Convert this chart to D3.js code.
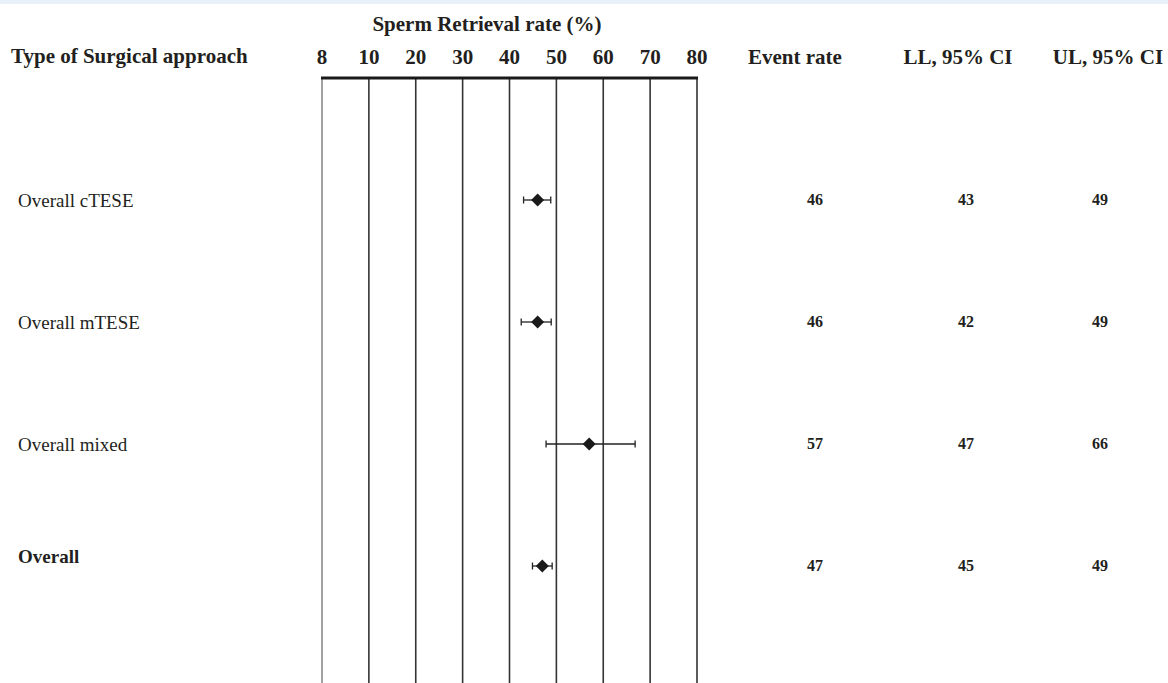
<!DOCTYPE html>
<html>
<head>
<meta charset="utf-8">
<script src="https://cdn.jsdelivr.net/npm/d3@7"></script>
<style>
  body { margin: 0; background: #fff; }
  svg { display: block; font-family: "Liberation Serif", "Times New Roman", serif; }
</style>
</head>
<body>
<div id="chart"></div>
<script>
// data
var groups   = ["Overall cTESE", "Overall mTESE", "Overall mixed", "Overall"];
var rates    = [46, 46, 57, 47];   // point estimate (plotted)
var lowerCI  = [43, 42.5, 47.8, 44.9];
var upperCI  = [48.8, 48.9, 66.8, 49.1];
var rateText = ["46", "46", "57", "47"];
var llText   = ["43", "42", "47", "45"];
var ulText   = ["49", "49", "66", "49"];
var ticks    = [8, 10, 20, 30, 40, 50, 60, 70, 80];
var colHeads = ["Event rate", "LL, 95% CI", "UL, 95% CI"];

var W = 1168, H = 683;
var app = {};
app.x0 = 322; app.x1 = 697; // axis ends
app.axisY = 78;
app.headSize = 21;

var svg = d3.select('#chart').append('svg')
  .attr('width', W).attr('height', H);

// light band along the top
svg.append('rect').attr('x', 0).attr('y', 0).attr('width', W).attr('height', 4)
  .attr('fill', '#e8f0fa');

// polylinear scale: ticks evenly spaced
var step = (app.x1 - app.x0) / (ticks.length - 1);
var x = d3.scaleLinear()
  .domain(ticks)
  .range(ticks.map(function(d, i){ return app.x0 + i * step; }));

var y = d3.scalePoint().domain(groups).range([200, 566]);

// vertical grid lines
svg.selectAll('.vline').data(ticks).enter().append('line')
  .attr('class', 'vline')
  .attr('x1', function(d){ return x(d); })
  .attr('x2', function(d){ return x(d); })
  .attr('y1', app.axisY).attr('y2', H)
  .attr('stroke', function(d, i){ return i == 0 ? '#8a8a8a' : '#333'; })
  .attr('stroke-width', 1.6);

// axis line
svg.append('line')
  .attr('x1', app.x0 - 1).attr('x2', app.x1 + 1)
  .attr('y1', app.axisY).attr('y2', app.axisY)
  .attr('stroke', '#1a1a1a').attr('stroke-width', 3);

// tick labels
svg.selectAll('.tick').data(ticks).enter().append('text')
  .attr('class', 'tick')
  .attr('x', function(d){ return x(d); })
  .attr('y', 64)
  .attr('text-anchor', 'middle')
  .attr('font-size', app.headSize).attr('font-weight', 'bold').attr('fill', '#231f20')
  .text(function(d){ return d; });

// axis title
svg.append('text')
  .attr('x', 487).attr('y', 31)
  .attr('text-anchor', 'middle')
  .attr('font-size', app.headSize).attr('font-weight', 'bold').attr('fill', '#231f20')
  .text('Sperm Retrieval rate (%)');

svg.append('text')
  .attr('x', 11).attr('y', 63)
  .attr('font-size', app.headSize).attr('font-weight', 'bold').attr('fill', '#231f20')
  .text('Type of Surgical approach');

// column headers
var colX = [795, 958, 1108];
var numX = [815, 966, 1100];
svg.selectAll('.colhead').data(colHeads).enter().append('text')
  .attr('class', 'colhead')
  .attr('x', function(d, i){ return colX[i]; })
  .attr('y', 64)
  .attr('text-anchor', 'middle')
  .attr('font-size', app.headSize).attr('font-weight', 'bold').attr('fill', '#231f20')
  .text(function(d){ return d; });

// rows
var rows = svg.selectAll('.row').data(groups).enter().append('g')
  .attr('class', 'row')
  .attr('transform', function(d){ return 'translate(0,' + y(d) + ')'; });

rows.append('text')
  .attr('x', 18)
  .attr('y', function(d, i){ return i == 3 ? -3 : 7; })
  .attr('font-size', 19)
  .attr('font-weight', function(d, i){ return i == 3 ? 'bold' : 'normal'; })
  .attr('fill', '#231f20')
  .text(function(d){ return d; });

// CI lines + caps
rows.append('line')
  .attr('x1', function(d, i){ return x(lowerCI[i]); })
  .attr('x2', function(d, i){ return x(upperCI[i]); })
  .attr('y1', 0).attr('y2', 0)
  .attr('stroke', '#222').attr('stroke-width', 1.3);
[lowerCI, upperCI].forEach(function(arr){
  rows.append('line')
    .attr('x1', function(d, i){ return x(arr[i]); })
    .attr('x2', function(d, i){ return x(arr[i]); })
    .attr('y1', -3.5).attr('y2', 3.5)
    .attr('stroke', '#222').attr('stroke-width', 1.3);
});

// diamonds
rows.append('path')
  .attr('d', function(d, i){
    var cx = x(rates[i]);
    return 'M' + (cx - 6.5) + ',0L' + cx + ',-6.5L' + (cx + 6.5) + ',0L' + cx + ',6.5Z';
  })
  .attr('fill', '#1a1a1a');

// numeric columns
[rateText, llText, ulText].forEach(function(arr, c){
  rows.append('text')
    .attr('x', numX[c])
    .attr('y', 5)
    .attr('text-anchor', 'middle')
    .attr('font-size', 16).attr('font-weight', 'bold').attr('fill', '#231f20')
    .text(function(d, i){ return arr[i]; });
});
</script>
</body>
</html>
